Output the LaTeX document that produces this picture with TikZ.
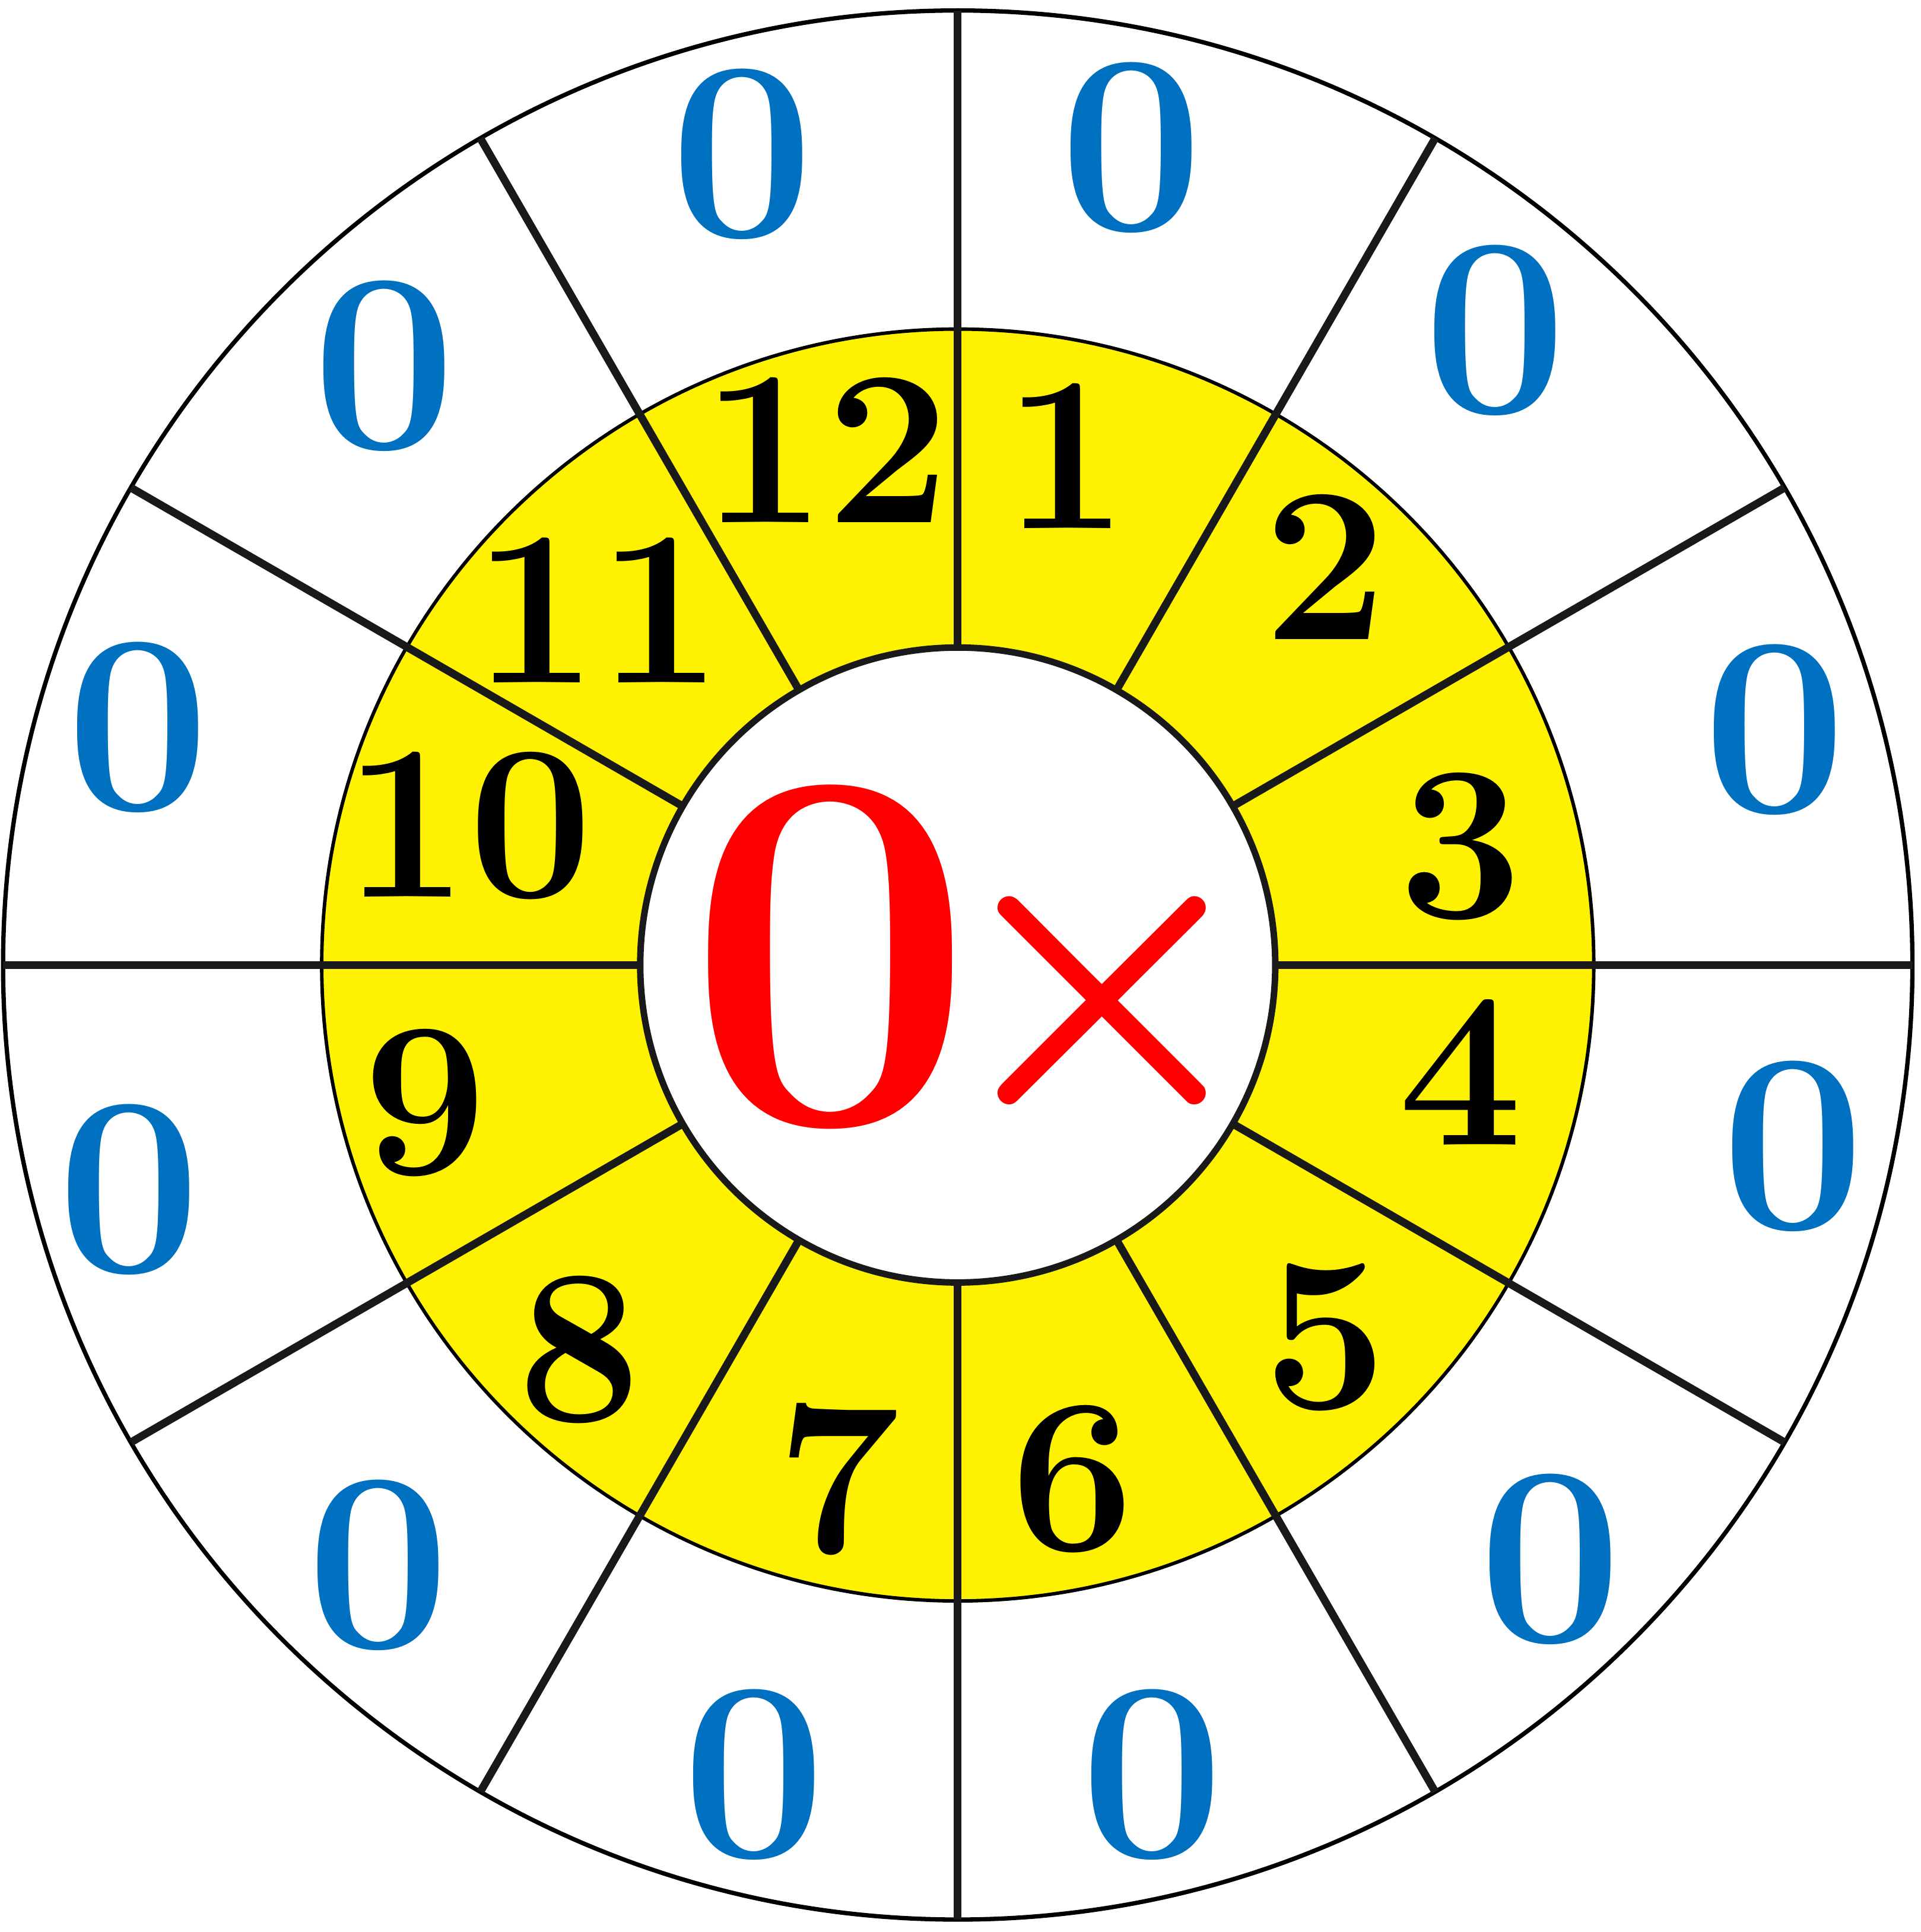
\documentclass[tikz,border=0pt]{standalone}
\usepackage{xcolor}
\usepackage{graphicx}
\usepackage{tikz}
\definecolor{ringfill}{RGB}{255,242,0}
\definecolor{prodblue}{RGB}{0,112,192}
\definecolor{factred}{RGB}{255,0,0}
\tikzset{
  rim/.style={draw=black, line width=1pt},
  spoke/.style={draw=black!90, line width=1.8pt},
  hub/.style={draw=black!90, line width=1.5pt, fill=white},
  prodnum/.style={text=prodblue, inner sep=0pt, font=\fontsize{59pt}{59pt}\selectfont\bfseries},
  ringnum/.style={text=black, inner sep=0pt, font=\fontsize{51pt}{51pt}\selectfont\bfseries},
  factnum/.style={text=factred, inner sep=0pt, font=\fontsize{119pt}{119pt}\selectfont\bfseries}
}

\begin{document}
\begin{tikzpicture}[x=1cm,y=1cm]
    \useasboundingbox (-7.77,-7.846) rectangle (7.81,7.83);

    % discs
    \path[rim, fill=white] (0,0) circle (7.745);
    \path[rim, fill=ringfill, line width=0.8pt] (0,0) circle (5.16);

    % spokes
    \draw[spoke] (0:2.576) -- (0:7.745);
    \draw[spoke] (30:2.576) -- (30:7.745);
    \draw[spoke] (60:2.576) -- (60:7.745);
    \draw[spoke] (90:2.576) -- (90:7.745);
    \draw[spoke] (120:2.576) -- (120:7.745);
    \draw[spoke] (150:2.576) -- (150:7.745);
    \draw[spoke] (180:2.576) -- (180:7.745);
    \draw[spoke] (210:2.576) -- (210:7.745);
    \draw[spoke] (240:2.576) -- (240:7.745);
    \draw[spoke] (270:2.576) -- (270:7.745);
    \draw[spoke] (300:2.576) -- (300:7.745);
    \draw[spoke] (330:2.576) -- (330:7.745);

    \path[hub] (0,0) circle (2.576);

    % centre
    \node[factnum] (zero) at (-1.03,0.065) {0};
    \node[text=factred, inner sep=0pt] (times) at (1.17,-0.29) {\scalebox{8.6}{\boldmath$\times$}};

    % ring numbers
    \node[ringnum] (n1) at (0.88,4.13) {1};
    \node[ringnum] (n2) at (2.98,3.23) {2};
    \node[ringnum] (n3) at (4.08,0.96) {3};
    \node[ringnum] (n4) at (4.08,-0.87) {4};
    \node[ringnum] (n5) at (2.98,-3.02) {5};
    \node[ringnum] (n6) at (0.93,-4.17) {6};
    \node[ringnum] (n7) at (-0.97,-4.17) {7};
    \node[ringnum] (n8) at (-3.07,-3.12) {8};
    \node[ringnum] (n9) at (-4.32,-1.12) {9};
    \node[ringnum] (n10) at (-3.97,1.13) {10};
    \node[ringnum] (n11) at (-2.92,2.88) {11};
    \node[ringnum] (n12) at (-1.07,4.18) {12};

    % products
    \node[prodnum] (p1) at (1.41,6.63) {0};
    \node[prodnum] (p2) at (4.36,5.15) {0};
    \node[prodnum] (p3) at (6.63,1.91) {0};
    \node[prodnum] (p4) at (6.78,-1.47) {0};
    \node[prodnum] (p5) at (4.81,-4.82) {0};
    \node[prodnum] (p6) at (1.58,-6.57) {0};
    \node[prodnum] (p7) at (-1.65,-6.57) {0};
    \node[prodnum] (p8) at (-4.70,-4.87) {0};
    \node[prodnum] (p9) at (-6.72,-1.82) {0};
    \node[prodnum] (p10) at (-6.65,1.93) {0};
    \node[prodnum] (p11) at (-4.65,4.86) {0};
    \node[prodnum] (p12) at (-1.75,6.58) {0};
\end{tikzpicture}
\end{document}
